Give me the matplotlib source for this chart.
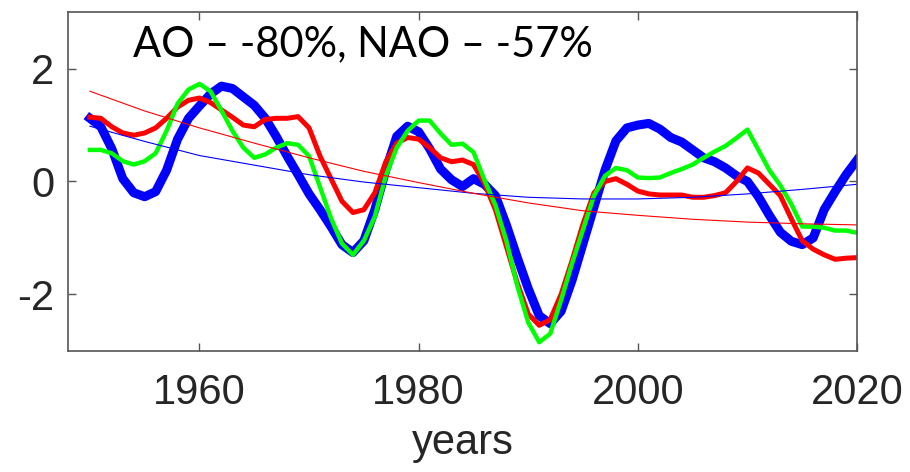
import matplotlib.pyplot as plt

years = list(range(1950, 2021))

# AO (thick blue)
ao = [1.12, 0.97, 0.58, 0.05, -0.20, -0.27, -0.18, 0.20, 0.75, 1.12,
      1.34, 1.55, 1.69, 1.65, 1.50, 1.35, 1.12, 0.80, 0.45, 0.12,
      -0.22, -0.50, -0.80, -1.12, -1.26, -1.05, -0.50, 0.20, 0.80, 0.98,
      0.88, 0.58, 0.22, 0.03, -0.09, 0.05, -0.05, -0.25, -0.77, -1.35,
      -1.90, -2.38, -2.52, -2.30, -1.75, -1.10, -0.45, 0.20, 0.72, 0.95,
      1.00, 1.03, 0.93, 0.78, 0.70, 0.56, 0.42, 0.35, 0.24, 0.10,
      0.00, -0.27, -0.60, -0.90, -1.06, -1.12, -1.00, -0.50, -0.18, 0.12,
      0.38]

# NAO (red)
nao = [1.14, 1.12, 0.97, 0.86, 0.82, 0.86, 0.95, 1.12, 1.32, 1.44,
       1.48, 1.40, 1.27, 1.14, 1.00, 0.97, 1.10, 1.12, 1.12, 1.15,
       0.95, 0.45, 0.05, -0.35, -0.55, -0.50, -0.20, 0.35, 0.68, 0.78,
       0.75, 0.60, 0.42, 0.35, 0.38, 0.30, -0.03, -0.50, -1.15, -1.80,
       -2.35, -2.55, -2.45, -2.00, -1.40, -0.75, -0.20, 0.00, 0.05, -0.05,
       -0.17, -0.22, -0.24, -0.24, -0.24, -0.28, -0.28, -0.25, -0.20, 0.00,
       0.24, 0.15, -0.05, -0.25, -0.66, -1.05, -1.20, -1.30, -1.38, -1.36,
       -1.35]

# third index (green)
grn = [0.56, 0.56, 0.50, 0.36, 0.30, 0.36, 0.50, 0.90, 1.38, 1.63,
       1.73, 1.60, 1.26, 0.90, 0.60, 0.42, 0.48, 0.60, 0.68, 0.65,
       0.45, -0.10, -0.65, -1.10, -1.30, -1.05, -0.62, 0.10, 0.60, 0.90,
       1.08, 1.08, 0.85, 0.65, 0.67, 0.52, 0.03, -0.42, -1.05, -1.85,
       -2.50, -2.85, -2.70, -2.10, -1.45, -0.85, -0.25, 0.10, 0.24, 0.20,
       0.07, 0.06, 0.07, 0.15, 0.22, 0.30, 0.42, 0.53, 0.63, 0.77,
       0.92, 0.56, 0.20, -0.07, -0.40, -0.80, -0.80, -0.82, -0.87, -0.87,
       -0.91]

# trend curves
trend_years = list(range(1950, 2021, 5))
ao_trend = [0.98, 0.71, 0.46, 0.29, 0.12, -0.01, -0.11, -0.21, -0.28,
            -0.31, -0.31, -0.28, -0.22, -0.14, -0.05]
nao_trend = [1.60, 1.25, 0.95, 0.68, 0.42, 0.18, -0.02, -0.21, -0.38,
             -0.52, -0.60, -0.67, -0.72, -0.75, -0.77]

plt.rcParams['font.family'] = 'Liberation Sans'
plt.rcParams['axes.unicode_minus'] = False

fig = plt.figure(figsize=(9.1, 4.72), dpi=100)
ax = fig.add_axes([0.0747, 0.257, 0.8671, 0.717])

ax.plot(years, ao, color='b', linewidth=6.5, solid_joinstyle='round')
ax.plot(years, nao, color='r', linewidth=3.6, solid_joinstyle='round')
ax.plot(years, grn, color='#00ff00', linewidth=3.2, solid_joinstyle='round')
ax.plot(trend_years, ao_trend, color='b', linewidth=0.8)
ax.plot(trend_years, nao_trend, color='r', linewidth=0.8)

ax.set_xlim(1948, 2020)
ax.set_ylim(-3, 3)
ax.set_xticks([1960, 1980, 2000, 2020])
ax.set_yticks([-2, 0, 2])
ax.tick_params(direction='in', length=6, width=1, colors='#555555',
               labelcolor='#262626', labelsize=30, top=True, right=True)
ax.tick_params(axis='x', pad=16)
ax.tick_params(axis='y', pad=10)
for s in ax.spines.values():
    s.set_color('#555555')
    s.set_linewidth(1.2)

ax.set_xlabel('years', fontsize=30, color='#262626', labelpad=7)

fig.text(133 / 910, 1 - 56 / 472, 'AO – -80%, NAO – -57%', fontsize=30,
         family='Lato', va='baseline', ha='left', color='black')

fig.savefig('out.png', dpi=100)
